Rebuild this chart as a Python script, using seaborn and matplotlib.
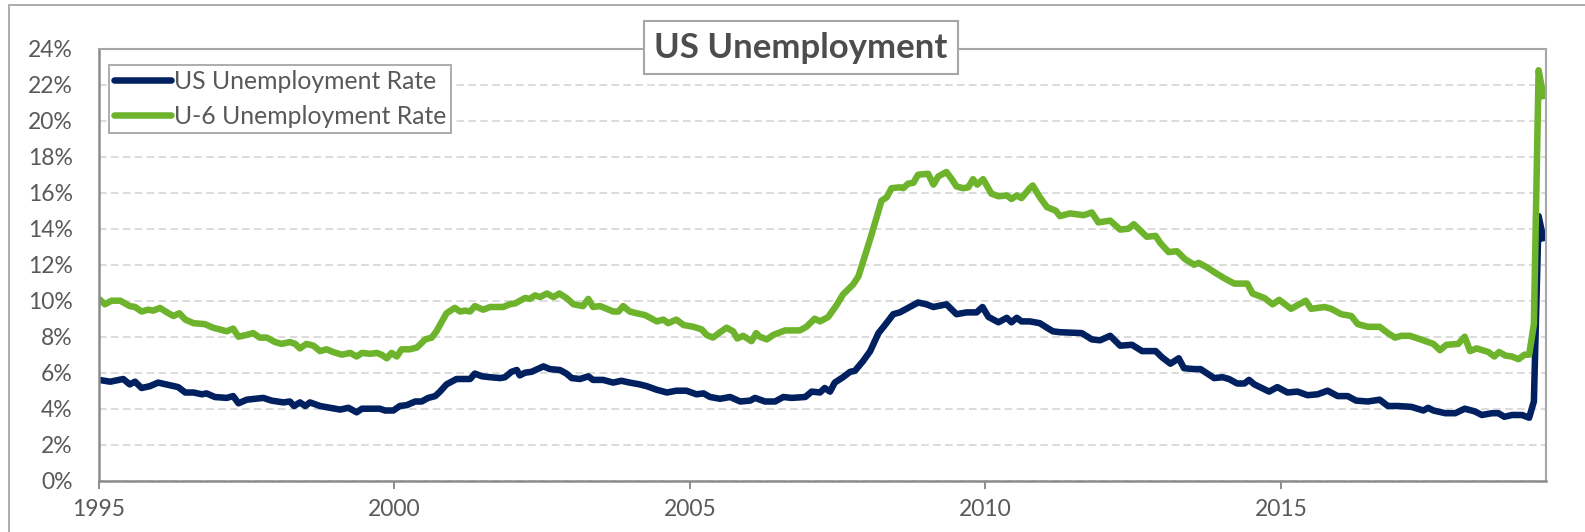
import matplotlib
matplotlib.use("Agg")
import matplotlib.pyplot as plt
import seaborn as sns
import pandas as pd
from matplotlib.patches import Rectangle
from matplotlib.lines import Line2D
from matplotlib.ticker import FixedLocator, FuncFormatter

# Headline unemployment rate (%), sampled along the time axis
us_year = [1995.00, 1995.19, 1995.41, 1995.52, 1995.61, 1995.72, 1995.86, 1996.00, 1996.20, 1996.34,
           1996.46, 1996.60, 1996.74, 1996.82, 1996.96, 1997.16, 1997.27, 1997.36, 1997.50, 1997.78,
           1997.92, 1998.12, 1998.23, 1998.30, 1998.40, 1998.49, 1998.57, 1998.74, 1998.91, 1999.08,
           1999.22, 1999.36, 1999.45, 1999.64, 1999.75, 1999.84, 1999.98, 2000.09, 2000.21, 2000.35,
           2000.46, 2000.57, 2000.69, 2000.77, 2000.88, 2001.05, 2001.28, 2001.36, 2001.48, 2001.62,
           2001.79, 2001.87, 2001.98, 2002.07, 2002.12, 2002.21, 2002.32, 2002.52, 2002.63, 2002.80,
           2002.91, 2003.00, 2003.14, 2003.28, 2003.36, 2003.53, 2003.70, 2003.84, 2003.98, 2004.15,
           2004.27, 2004.44, 2004.61, 2004.77, 2004.94, 2005.11, 2005.23, 2005.34, 2005.51, 2005.68,
           2005.85, 2006.02, 2006.10, 2006.27, 2006.44, 2006.58, 2006.72, 2006.95, 2007.06, 2007.20,
           2007.28, 2007.37, 2007.45, 2007.59, 2007.71, 2007.79, 2007.93, 2008.05, 2008.19, 2008.30,
           2008.44, 2008.55, 2008.72, 2008.86, 2009.00, 2009.12, 2009.34, 2009.51, 2009.68, 2009.85,
           2009.95, 2010.05, 2010.22, 2010.36, 2010.44, 2010.53, 2010.61, 2010.75, 2010.92, 2011.04,
           2011.14, 2011.26, 2011.63, 2011.80, 2011.94, 2012.11, 2012.28, 2012.48, 2012.65, 2012.88,
           2012.99, 2013.13, 2013.27, 2013.36, 2013.53, 2013.64, 2013.87, 2014.01, 2014.12, 2014.26,
           2014.38, 2014.46, 2014.55, 2014.80, 2014.94, 2015.11, 2015.28, 2015.45, 2015.62, 2015.79,
           2015.96, 2016.13, 2016.27, 2016.47, 2016.67, 2016.81, 2016.98, 2017.21, 2017.41, 2017.49,
           2017.58, 2017.78, 2017.95, 2018.11, 2018.28, 2018.40, 2018.57, 2018.68, 2018.78, 2018.91,
           2019.08, 2019.20, 2019.28, 2019.36, 2019.45]
us_rate = [5.60, 5.50, 5.65, 5.35, 5.50, 5.15, 5.25, 5.45, 5.30, 5.20,
           4.90, 4.90, 4.80, 4.85, 4.65, 4.60, 4.70, 4.30, 4.50, 4.60,
           4.45, 4.35, 4.40, 4.15, 4.35, 4.15, 4.35, 4.15, 4.05, 3.95,
           4.05, 3.80, 4.00, 4.00, 4.00, 3.90, 3.90, 4.15, 4.20, 4.40,
           4.40, 4.60, 4.70, 4.95, 5.35, 5.65, 5.65, 5.95, 5.80, 5.75,
           5.70, 5.75, 6.05, 6.15, 5.85, 6.00, 6.05, 6.35, 6.20, 6.15,
           5.95, 5.70, 5.65, 5.80, 5.60, 5.60, 5.45, 5.55, 5.45, 5.35,
           5.25, 5.05, 4.90, 5.00, 5.00, 4.80, 4.85, 4.65, 4.55, 4.65,
           4.40, 4.45, 4.60, 4.40, 4.40, 4.65, 4.60, 4.65, 4.95, 4.90,
           5.15, 4.95, 5.45, 5.75, 6.05, 6.10, 6.65, 7.20, 8.20, 8.65,
           9.25, 9.35, 9.65, 9.90, 9.80, 9.65, 9.80, 9.25, 9.35, 9.35,
           9.65, 9.10, 8.80, 9.05, 8.80, 9.05, 8.85, 8.85, 8.75, 8.50,
           8.30, 8.25, 8.20, 7.85, 7.80, 8.05, 7.50, 7.55, 7.20, 7.20,
           6.85, 6.50, 6.80, 6.25, 6.20, 6.20, 5.70, 5.75, 5.65, 5.40,
           5.40, 5.60, 5.35, 4.95, 5.20, 4.90, 4.95, 4.75, 4.80, 5.00,
           4.70, 4.70, 4.45, 4.40, 4.50, 4.15, 4.15, 4.10, 3.90, 4.05,
           3.90, 3.75, 3.75, 4.00, 3.85, 3.65, 3.75, 3.75, 3.55, 3.65,
           3.65, 3.50, 4.40, 14.70, 13.30]

# U-6 underemployment rate (%), sampled along the time axis
u6_year = [1995.00, 1995.10, 1995.21, 1995.36, 1995.52, 1995.61, 1995.72, 1995.83, 1995.92, 1996.03,
           1996.15, 1996.26, 1996.36, 1996.46, 1996.60, 1996.79, 1996.93, 1997.05, 1997.16, 1997.27,
           1997.36, 1997.50, 1997.61, 1997.72, 1997.84, 1997.98, 1998.09, 1998.23, 1998.32, 1998.40,
           1998.51, 1998.63, 1998.74, 1998.85, 1998.96, 1999.11, 1999.25, 1999.36, 1999.45, 1999.59,
           1999.70, 1999.78, 1999.87, 1999.95, 2000.04, 2000.12, 2000.26, 2000.38, 2000.52, 2000.63,
           2000.71, 2000.88, 2001.02, 2001.11, 2001.19, 2001.28, 2001.36, 2001.50, 2001.62, 2001.84,
           2001.95, 2002.04, 2002.21, 2002.29, 2002.38, 2002.46, 2002.58, 2002.69, 2002.79, 2002.91,
           2003.03, 2003.19, 2003.28, 2003.36, 2003.48, 2003.70, 2003.79, 2003.87, 2003.98, 2004.10,
           2004.24, 2004.44, 2004.55, 2004.63, 2004.77, 2004.89, 2005.06, 2005.20, 2005.28, 2005.39,
           2005.51, 2005.62, 2005.73, 2005.80, 2005.90, 2006.04, 2006.12, 2006.18, 2006.30, 2006.41,
           2006.61, 2006.86, 2006.97, 2007.11, 2007.20, 2007.34, 2007.48, 2007.59, 2007.76, 2007.85,
           2007.99, 2008.07, 2008.16, 2008.24, 2008.33, 2008.41, 2008.55, 2008.61, 2008.69, 2008.78,
           2008.86, 2009.03, 2009.12, 2009.20, 2009.34, 2009.43, 2009.51, 2009.62, 2009.71, 2009.79,
           2009.86, 2009.96, 2010.10, 2010.22, 2010.36, 2010.44, 2010.53, 2010.61, 2010.75, 2010.80,
           2010.92, 2011.04, 2011.19, 2011.26, 2011.43, 2011.66, 2011.80, 2011.91, 2012.11, 2012.28,
           2012.42, 2012.51, 2012.73, 2012.88, 2012.96, 2013.10, 2013.24, 2013.38, 2013.53, 2013.61,
           2013.75, 2013.89, 2014.04, 2014.21, 2014.43, 2014.52, 2014.72, 2014.86, 2014.97, 2015.17,
           2015.31, 2015.42, 2015.51, 2015.74, 2015.85, 2016.02, 2016.19, 2016.30, 2016.47, 2016.67,
           2016.81, 2016.93, 2017.04, 2017.18, 2017.32, 2017.49, 2017.58, 2017.69, 2017.80, 2018.00,
           2018.11, 2018.20, 2018.31, 2018.51, 2018.61, 2018.69, 2018.80, 2018.91, 2019.02, 2019.12,
           2019.20, 2019.28, 2019.36, 2019.45]
u6_rate = [10.10, 9.80, 10.00, 10.00, 9.70, 9.65, 9.40, 9.50, 9.45, 9.60,
           9.35, 9.15, 9.30, 8.95, 8.75, 8.70, 8.50, 8.40, 8.30, 8.45,
           8.00, 8.10, 8.20, 7.95, 7.95, 7.70, 7.60, 7.70, 7.60, 7.35,
           7.60, 7.50, 7.20, 7.30, 7.15, 7.00, 7.10, 6.90, 7.10, 7.05,
           7.10, 7.00, 6.80, 7.10, 6.90, 7.30, 7.30, 7.40, 7.85, 7.95,
           8.30, 9.30, 9.60, 9.40, 9.45, 9.40, 9.70, 9.50, 9.65, 9.65,
           9.80, 9.85, 10.15, 10.10, 10.30, 10.20, 10.40, 10.20, 10.40, 10.15,
           9.80, 9.70, 10.10, 9.65, 9.70, 9.40, 9.40, 9.70, 9.40, 9.30,
           9.20, 8.85, 8.95, 8.75, 8.95, 8.65, 8.55, 8.40, 8.10, 7.95,
           8.25, 8.50, 8.30, 7.90, 8.05, 7.75, 8.20, 8.00, 7.85, 8.10,
           8.35, 8.35, 8.55, 9.00, 8.85, 9.10, 9.75, 10.35, 10.90, 11.35,
           12.80, 13.65, 14.65, 15.55, 15.75, 16.25, 16.30, 16.25, 16.50, 16.55,
           17.00, 17.05, 16.45, 16.90, 17.15, 16.75, 16.35, 16.25, 16.30, 16.75,
           16.45, 16.75, 15.95, 15.80, 15.85, 15.65, 15.85, 15.70, 16.25, 16.40,
           15.75, 15.20, 15.00, 14.70, 14.85, 14.75, 14.90, 14.35, 14.45, 13.95,
           14.00, 14.25, 13.55, 13.60, 13.20, 12.70, 12.75, 12.30, 12.00, 12.10,
           11.85, 11.55, 11.25, 10.95, 10.95, 10.40, 10.15, 9.80, 10.05, 9.55,
           9.80, 10.00, 9.55, 9.65, 9.55, 9.25, 9.15, 8.70, 8.55, 8.55,
           8.20, 7.95, 8.05, 8.05, 7.90, 7.70, 7.60, 7.25, 7.55, 7.60,
           8.00, 7.20, 7.35, 7.15, 6.90, 7.15, 6.95, 6.90, 6.75, 7.00,
           7.00, 8.70, 22.80, 21.20]

series_names = ["US Unemployment Rate", "U-6 Unemployment Rate"]
year_ticks = [1995, 2000, 2005, 2010, 2015]
pct_ticks = [0, 2, 4, 6, 8, 10, 12, 14, 16, 18, 20, 22, 24]
chart_title = "US Unemployment"

NAVY = "#002060"
GREEN = "#6DB42C"
TEXT = "#595959"
FRAME = "#A6A6A6"

df = pd.concat([
    pd.DataFrame({"Year": us_year, "Rate": us_rate, "Series": series_names[0]}),
    pd.DataFrame({"Year": u6_year, "Rate": u6_rate, "Series": series_names[1]}),
], ignore_index=True)

sns.set_theme(style="white")
plt.rcParams["font.family"] = ["Lato", "DejaVu Sans"]

W, H = 1585, 532
fig = plt.figure(figsize=(W / 100, H / 100), dpi=100)
fig.patch.set_facecolor("white")

# outer chart frame (only left and top edges fall inside the canvas)
fig.patches.append(Rectangle((9 / W, -0.2), 1.2, 1.2 - 5 / H, transform=fig.transFigure,
                             fill=False, edgecolor=FRAME, linewidth=1.3))

left, right, top, bottom = 99, 1545.7, 48.7, 480.7
ax = fig.add_axes([left / W, 1 - bottom / H, (right - left) / W, (bottom - top) / H])

LW = 4.7
sns.lineplot(data=df, x="Year", y="Rate", hue="Series", hue_order=series_names,
             palette={series_names[0]: NAVY, series_names[1]: GREEN},
             estimator=None, sort=False, linewidth=LW, ax=ax, legend=False)
for ln in ax.get_lines():
    ln.set_solid_joinstyle("round")
    ln.set_solid_capstyle("butt")

ax.set_xlim(1995, 2019.48)
ax.set_ylim(0, 24)
ax.xaxis.set_major_locator(FixedLocator(year_ticks))
ax.xaxis.set_major_formatter(FuncFormatter(lambda v, p: f"{int(round(v))}"))
ax.yaxis.set_major_locator(FixedLocator(pct_ticks))
ax.yaxis.set_major_formatter(FuncFormatter(lambda v, p: f"{int(round(v))}%"))
ax.set_xlabel("")
ax.set_ylabel("")

ax.yaxis.grid(True, color="#D9D9D9", linewidth=1.3, linestyle=(0, (4.2, 2.4)))
ax.xaxis.grid(False)
ax.set_axisbelow(True)

for side in ["top", "right"]:
    ax.spines[side].set_color(FRAME)
    ax.spines[side].set_linewidth(1.5)
for side in ["left", "bottom"]:
    ax.spines[side].set_color("#8C8C8C")
    ax.spines[side].set_linewidth(1.8)

ax.tick_params(axis="x", which="major", direction="out", length=6, width=1.4,
               color="#8C8C8C", labelsize=16.5, labelcolor=TEXT, pad=7, bottom=True)
ax.tick_params(axis="y", which="major", length=0, labelsize=16.5, labelcolor=TEXT, pad=19)

handles = [Line2D([0], [0], color=NAVY, lw=LW, solid_capstyle="round"),
           Line2D([0], [0], color=GREEN, lw=LW, solid_capstyle="round")]
leg = ax.legend(handles, series_names, loc="upper left", bbox_to_anchor=(0.0069, 0.962),
                frameon=True, fancybox=False, framealpha=1, edgecolor=FRAME,
                fontsize=17.8, handlelength=2.3, handletextpad=0.12, borderpad=0.2,
                labelspacing=0.48, borderaxespad=0.0)
leg.get_frame().set_linewidth(1.3)
for t in leg.get_texts():
    t.set_color(TEXT)

fig.text(801 / W, 1 - 47.5 / H, chart_title, ha="center", va="center",
         fontsize=25, fontweight="bold", color="#4D4D4D",
         bbox=dict(boxstyle="square,pad=0.3", facecolor="white", edgecolor=FRAME, linewidth=1.5))

fig.savefig("out.png", dpi=100, facecolor="white")
